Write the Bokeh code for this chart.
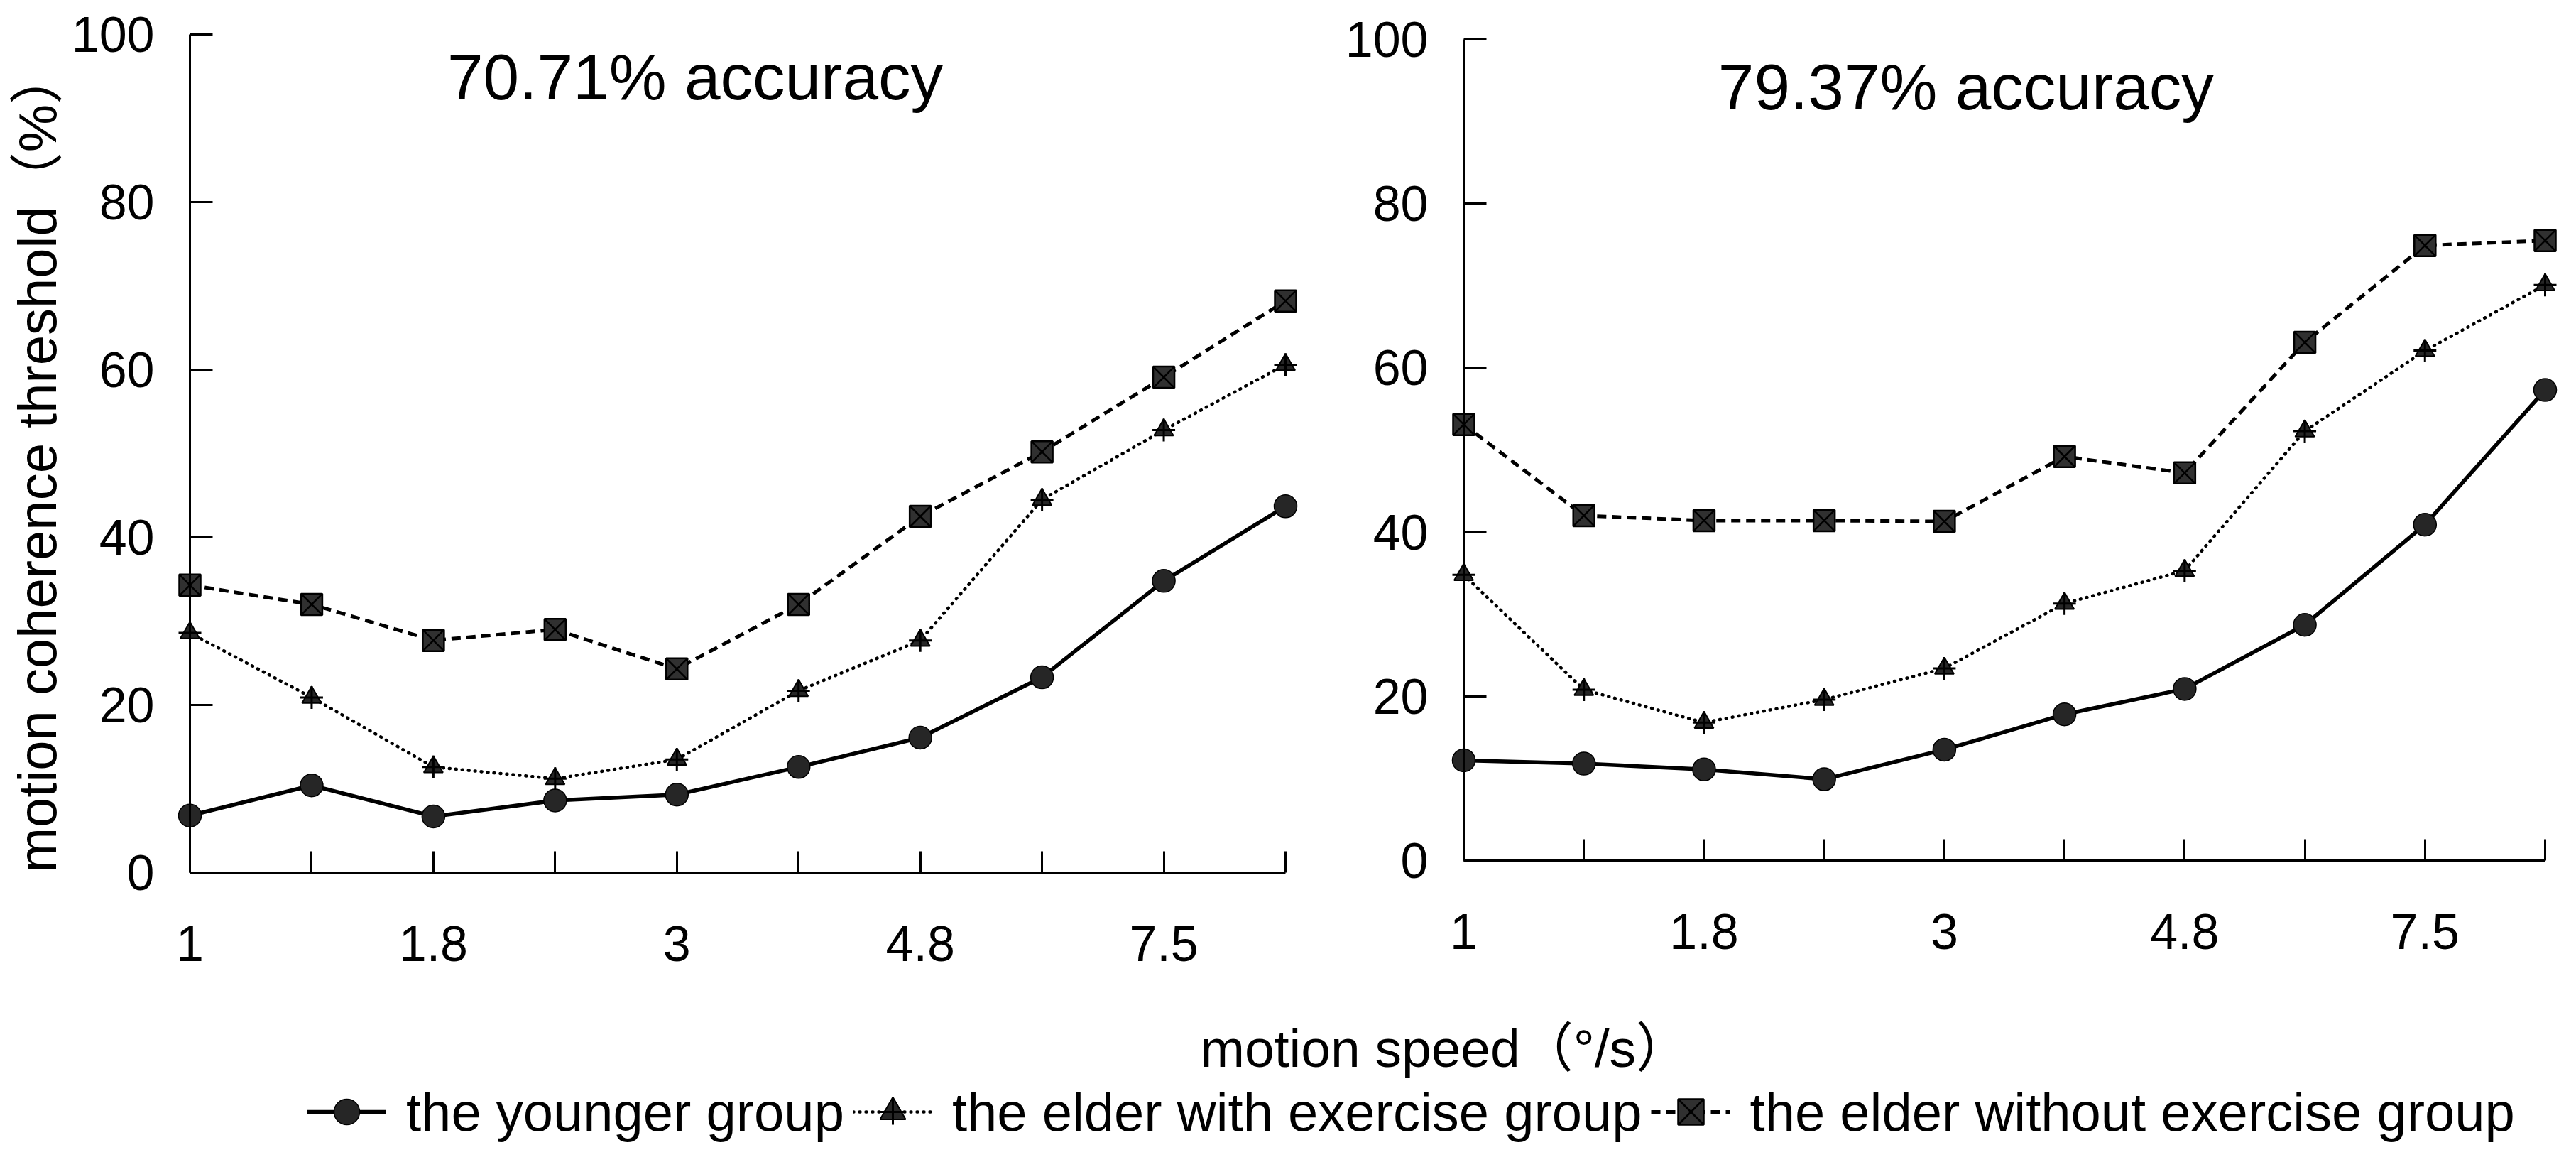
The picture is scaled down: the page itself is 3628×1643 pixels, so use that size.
import math
from bokeh.plotting import figure
from bokeh.models import (Range1d, FixedTicker, Label, Legend, LegendItem,
                          ColumnDataSource, LinearAxis)
from bokeh.embed import file_html
from bokeh.resources import INLINE

# ---------------- data ----------------
speed_index = [0, 1, 2, 3, 4, 5, 6, 7, 8, 9]
speed_labels = ["1", "", "1.8", "", "3", "", "4.8", "", "7.5", ""]
y_ticks = [0, 20, 40, 60, 80, 100]

left_title = "70.71% accuracy"
right_title = "79.37% accuracy"
y_title = "motion coherence threshold（%）"
x_title = "motion speed（°/s）"

series_names = ["the younger group", "the elder with exercise group",
                "the elder without exercise group"]

young_7071 = [6.8, 10.4, 6.7, 8.6, 9.3, 12.6, 16.1, 23.3, 34.8, 43.7]
exercise_7071 = [28.6, 20.9, 12.6, 11.2, 13.5, 21.7, 27.7, 44.5, 52.8, 60.6]
noexercise_7071 = [34.3, 32.0, 27.7, 29.0, 24.3, 32.0, 42.5, 50.2, 59.1, 68.2]

young_7937 = [12.2, 11.8, 11.1, 9.9, 13.5, 17.8, 20.9, 28.7, 40.9, 57.3]
exercise_7937 = [34.8, 20.8, 16.8, 19.6, 23.4, 31.3, 35.3, 52.3, 62.1, 70.1]
noexercise_7937 = [53.1, 42.0, 41.4, 41.4, 41.3, 49.2, 47.2, 63.1, 74.9, 75.5]

# ---------------- layout (pixels inside the canvas) ----------------
W, H = 3612, 1627          # canvas = frame
L_X0, L_X9 = 267, 1810     # x of first / last category, left panel
R_X0, R_X9 = 2061, 3584    # right panel
L_Y0, L_Y100 = 399, 1579   # y of 0 / 100, left panel (from bottom)
R_Y0, R_Y100 = 416, 1572   # right panel


def span_range(p0, p1, v0, v1, total):
    k = (p1 - p0) / (v1 - v0)
    start = v0 - p0 / k
    return Range1d(start, start + total / k)


FONT = "Liberation Sans, Noto Sans CJK SC"
MARK = "#262626"
SQ_FILL = "#303030"
DOTS = "1 8"
DASHES = "13 8"

p = figure(width=W, height=H, output_backend="svg", toolbar_location=None,
           x_axis_type=None, y_axis_type=None,
           x_range=span_range(L_X0, L_X9, 0, 9, W),
           y_range=span_range(L_Y0, L_Y100, 0, 100, H),
           min_border=0, min_border_left=0, min_border_right=0,
           min_border_top=0, min_border_bottom=0)
p.extra_x_ranges = {"rx": span_range(R_X0, R_X9, 0, 9, W)}
p.extra_y_ranges = {"ry": span_range(R_Y0, R_Y100, 0, 100, H)}
p.outline_line_color = None
p.xgrid.visible = False
p.ygrid.visible = False
p.background_fill_color = "white"
p.border_fill_color = "white"


def style_axis(ax, ticks, tick_len, standoff):
    ax.ticker = FixedTicker(ticks=ticks)
    ax.minor_tick_line_color = None
    ax.major_tick_in = tick_len
    ax.major_tick_out = 0
    ax.major_tick_line_width = 3
    ax.major_tick_line_color = "black"
    ax.axis_line_width = 3
    ax.axis_line_color = "black"
    ax.major_label_standoff = standoff
    ax.major_label_text_font = FONT
    ax.major_label_text_font_size = "70px"
    ax.major_label_text_color = "black"


def draw_panel(xr, yr, young, ex, noex, title, title_x, title_y):
    kw = dict(x_range_name=xr, y_range_name=yr)
    xa = LinearAxis(fixed_location=0, bounds=(speed_index[0], speed_index[-1]), **kw)
    style_axis(xa, speed_index, 30, 75)
    xa.major_label_overrides = {i: lab for i, lab in zip(speed_index, speed_labels)}
    p.add_layout(xa, "below")
    ya = LinearAxis(fixed_location=0, bounds=(y_ticks[0], y_ticks[-1]), **kw)
    style_axis(ya, y_ticks, 32, 50)
    p.add_layout(ya, "left")

    src_y = ColumnDataSource(dict(x=speed_index, y=young))
    src_e = ColumnDataSource(dict(x=speed_index, y=ex))
    src_n = ColumnDataSource(dict(x=speed_index, y=noex))
    rn = [p.line("x", "y", source=src_n, line_color="black", line_width=5,
                 line_dash=DASHES, **kw),
          p.scatter("x", "y", source=src_n, marker="square_x", size=30,
                    fill_color=SQ_FILL, line_color="black", line_width=2.5, **kw)]
    re_ = [p.line("x", "y", source=src_e, line_color="black", line_width=4.5,
                  line_dash=DOTS, line_cap="round", **kw),
           p.scatter("x", "y", source=src_e, marker="triangle", size=27,
                     fill_color=MARK, line_color="black", line_width=2, **kw),
           p.scatter("x", "y", source=src_e, marker="cross", size=32,
                     line_color="black", line_width=3, **kw)]
    ry = [p.line("x", "y", source=src_y, line_color="black", line_width=5.5, **kw),
          p.scatter("x", "y", source=src_y, marker="circle", size=32,
                    fill_color=MARK, line_color="black", line_width=1.5, **kw)]
    p.add_layout(Label(x=title_x, y=title_y, text=title, text_font=FONT,
                       text_font_size="91px", text_align="center",
                       text_baseline="alphabetic", text_color="black", **kw))
    return ry, re_, rn


ry_l, re_l, rn_l = draw_panel("default", "default", young_7071, exercise_7071,
                              noexercise_7071, left_title, 4.15, 94.9)
draw_panel("rx", "ry", young_7937, exercise_7937, noexercise_7937,
           right_title, 4.18, 94.2)

# y-axis title (rotated), x-axis title
p.add_layout(Label(x=52, y=978, x_units="screen", y_units="screen", text=y_title,
                   angle=math.pi / 2, text_font=FONT, text_font_size="76px",
                   text_align="center", text_baseline="alphabetic", text_color="black"))
p.add_layout(Label(x=1690, y=152, x_units="screen", y_units="screen", text=x_title,
                   text_font=FONT, text_font_size="75px", text_align="left",
                   text_baseline="alphabetic", text_color="black"))

legend = Legend(items=[LegendItem(label=series_names[0], renderers=ry_l),
                       LegendItem(label=series_names[1], renderers=re_l),
                       LegendItem(label=series_names[2], renderers=rn_l)],
                orientation="horizontal", location=(432, 17))
legend.glyph_width = 112
legend.glyph_height = 90
legend.label_height = 90
legend.label_standoff = 28
legend.spacing = 12
legend.padding = 0
legend.margin = 0
legend.border_line_color = None
legend.background_fill_alpha = 0
legend.label_text_font = FONT
legend.label_text_font_size = "76px"
legend.label_text_color = "black"
p.add_layout(legend)

open("out.html", "w").write(file_html(p, INLINE))
